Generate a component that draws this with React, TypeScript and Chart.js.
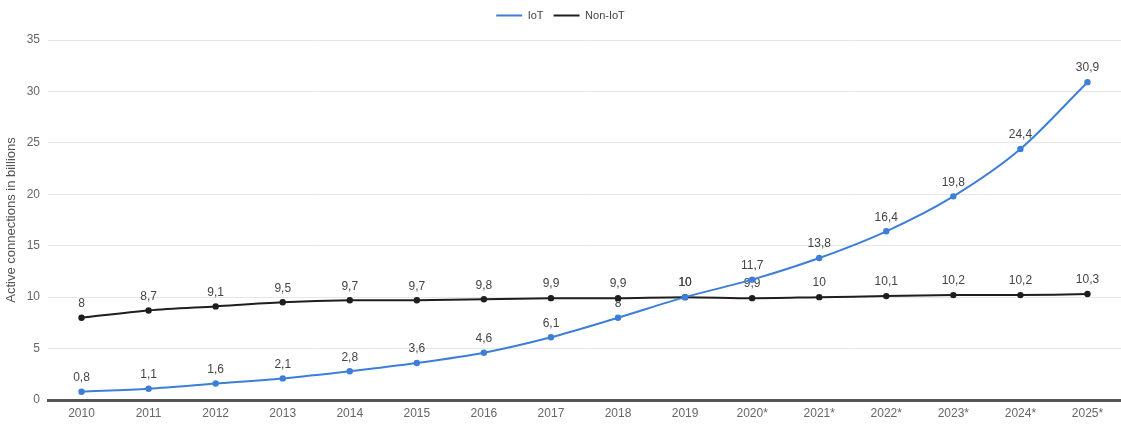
import React, { useEffect, useRef } from "react";
import { Chart, registerables } from "chart.js";

Chart.register(...registerables);

const years = ["2010", "2011", "2012", "2013", "2014", "2015", "2016", "2017", "2018", "2019", "2020*", "2021*", "2022*", "2023*", "2024*", "2025*"];
const iotValues = [0.8, 1.1, 1.6, 2.1, 2.8, 3.6, 4.6, 6.1, 8, 10, 11.7, 13.8, 16.4, 19.8, 24.4, 30.9];
const nonIotValues = [8, 8.7, 9.1, 9.5, 9.7, 9.7, 9.8, 9.9, 9.9, 10, 9.9, 10, 10.1, 10.2, 10.2, 10.3];
const seriesNames = ["IoT", "Non-IoT"];
const yAxisTitle = "Active connections in billions";

const FONT = "'Liberation Sans', Arial, sans-serif";

const dataLabelPlugin = {
  id: "dataLabels",
  beforeDatasetsDraw(chart: any) {
    const ctx = chart.ctx;
    ctx.save();
    ctx.font = `12px ${FONT}`;
    ctx.fillStyle = "#444";
    ctx.textAlign = "center";
    ctx.textBaseline = "bottom";
    chart.data.datasets.forEach((ds: any, i: number) => {
      const meta = chart.getDatasetMeta(i);
      meta.data.forEach((pt: any, j: number) => {
        const v = ds.data[j];
        ctx.fillText(String(v).replace(".", ","), pt.x, pt.y - 8);
      });
    });
    ctx.restore();
  },
};

const legendSpacing = {
  id: "legendSpacing",
  beforeInit(chart: any) {
    const legend = chart.legend;
    if (!legend) return;
    const origFit = legend.fit;
    legend.fit = function () {
      origFit.call(this);
      this.height += 9;
    };
  },
};

export default function App() {
  const ref = useRef<HTMLCanvasElement>(null);
  useEffect(() => {
    if (!ref.current) return;
    const chart = new Chart(ref.current, {
      type: "line",
      data: {
        labels: years,
        datasets: [
          {
            label: seriesNames[0],
            data: iotValues,
            borderColor: "#3d7fd8",
            backgroundColor: "#3d7fd8",
            borderWidth: 2,
            pointRadius: 2.2,
            pointHoverRadius: 2.2,
            tension: 0.3,
          },
          {
            label: seriesNames[1],
            data: nonIotValues,
            borderColor: "#1e1e1e",
            backgroundColor: "#1e1e1e",
            borderWidth: 2,
            pointRadius: 2.2,
            pointHoverRadius: 2.2,
            tension: 0.3,
          },
        ],
      },
      options: {
        animation: false,
        responsive: false,
        maintainAspectRatio: false,
        layout: { autoPadding: false, padding: { left: 0, right: 0, top: 0, bottom: 0 } },
        plugins: {
          tooltip: { enabled: false },
          legend: {
            position: "top",
            labels: {
              usePointStyle: true,
              pointStyle: "line",
              pointStyleWidth: 26,
              boxHeight: 8,
              color: "#444",
              font: { family: FONT, size: 11 },
              padding: 10,
            },
          },
        },
        scales: {
          x: {
            offset: true,
            grid: { display: false, drawTicks: false },
            border: { display: true, color: "#555", width: 3 },
            ticks: { color: "#666", font: { family: FONT, size: 12 }, padding: 6, maxRotation: 0, autoSkip: false },
            afterFit(scale: any) {
              scale.height = 28;
              scale.paddingLeft = 0;
              scale.paddingRight = 0;
            },
          },
          y: {
            min: 0,
            max: 35,
            ticks: { stepSize: 5, color: "#666", font: { family: FONT, size: 12 }, padding: 8 },
            grid: { color: "#e6e6e6", lineWidth: 1, drawTicks: false },
            border: { display: false },
            title: { display: true, text: yAxisTitle, color: "#555", font: { family: FONT, size: 13 }, padding: { top: 4, bottom: 2 } },
            afterFit(scale: any) {
              scale.width = 48;
            },
          },
        },
      },
      plugins: [dataLabelPlugin, legendSpacing],
    } as any);
    return () => chart.destroy();
  }, []);
  return (
    <div style={{ position: "fixed", left: 0, top: 0, width: 1121, height: 428, background: "#fff" }}>
      <canvas ref={ref} width={1121} height={428} style={{ width: 1121, height: 428 }} />
    </div>
  );
}
